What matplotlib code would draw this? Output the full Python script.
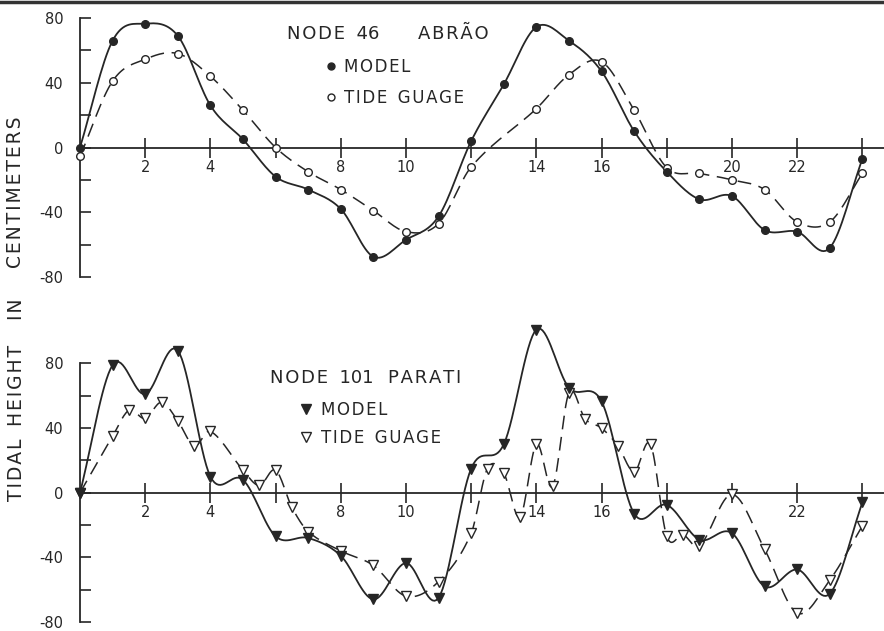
import numpy as np
import matplotlib.pyplot as plt
from matplotlib.lines import Line2D

plt.rcParams["axes.unicode_minus"] = False

# hours after start of record
hours = list(range(25))

# Node 46 - Abrao
abrao_model = [0, 66, 76.5, 69, 26, 5, -18, -26, -38, -67.5, -57, -42.5, 4,
               39, 74.5, 66, 47, 10, -15, -32, -30, -51, -52, -62, -7]
abrao_gauge_hours = [0, 1, 2, 3, 4, 5, 6, 7, 8, 9, 10, 11, 12,
                     14, 15, 16, 17, 18, 19, 20, 21, 22, 23, 24]
abrao_gauge = [-5.5, 41, 54.5, 58, 44, 23, 0, -15, -26, -39, -52, -47, -12,
               24, 45, 53, 23, -12.5, -16, -20, -26, -46, -46, -16]

# Node 101 - Parati
parati_model = [0, 79, 61, 88, 10, 8, -27, -28, -39, -66, -43.5, -65, 15,
                30, 101, 65, 56.5, -13, -7.5, -29, -25, -58, -47.5, -62.5, -6]
parati_gauge_hours = [0, 1, 1.5, 2, 2.5, 3, 3.5, 4, 5, 5.5, 6, 6.5, 7, 8, 9, 10, 11,
                      12, 12.5, 13, 13.5, 14, 14.5, 15, 15.5, 16, 16.5, 17, 17.5,
                      18, 18.5, 19, 20, 21, 22, 23, 24]
parati_gauge = [0, 35, 51, 46, 56, 44.5, 29, 38, 14, 4.5, 14, -9, -24, -36, -45, -64, -55,
                -25, 15, 12, -15, 30, 4, 62, 45.5, 40, 29, 13, 30,
                -27, -26, -33, -1, -35, -74.5, -54, -20.5]

x_ticks = list(range(2, 25, 2))
top_labels = ["2", "4", "", "8", "10", "", "14", "16", "", "20", "22", ""]
bottom_labels = ["2", "4", "", "8", "10", "", "14", "16", "", "", "22", ""]

INK = "#262626"
W, H = 884, 631
HS = "\u200a"  # hair space, the lettering is widely spaced


def smooth(x, y, n=16):
    # cubic hermite through the points, like a french curve
    x = np.asarray(x, float)
    y = np.asarray(y, float)
    m = np.zeros_like(y)
    m[1:-1] = (y[2:] - y[:-2]) / (x[2:] - x[:-2])
    m[0] = (y[1] - y[0]) / (x[1] - x[0])
    m[-1] = (y[-1] - y[-2]) / (x[-1] - x[-2])
    xs, ys = [], []
    for i in range(len(x) - 1):
        h = x[i + 1] - x[i]
        t = np.linspace(0, 1, n, endpoint=False)
        h00 = 2 * t**3 - 3 * t**2 + 1
        h10 = t**3 - 2 * t**2 + t
        h01 = -2 * t**3 + 3 * t**2
        h11 = t**3 - t**2
        xs.append(x[i] + t * h)
        ys.append(h00 * y[i] + h10 * h * m[i] + h01 * y[i + 1] + h11 * h * m[i + 1])
    xs.append([x[-1]])
    ys.append([y[-1]])
    return np.concatenate(xs), np.concatenate(ys)


def setup_axes(ax, labels):
    ax.set_xlim(0, (W - 80) / 32.6)
    ax.set_ylim(-80, 80)
    for s in ["top", "right"]:
        ax.spines[s].set_visible(False)
    ax.spines["left"].set_bounds(-80, 80)
    ax.spines["left"].set_color(INK)
    ax.spines["left"].set_linewidth(1.3)
    ax.spines["bottom"].set_position(("data", 0))
    ax.spines["bottom"].set_color(INK)
    ax.spines["bottom"].set_linewidth(1.3)
    ax.set_yticks([-80, -40, 0, 40, 80])
    ax.set_yticks([-60, -20, 20, 60], minor=True)
    ax.tick_params(axis="y", which="both", direction="in", length=8, width=1.2,
                   color=INK, labelsize=10.5, labelcolor=INK, pad=12)
    ax.set_xticks(x_ticks)
    ax.set_xticklabels(labels)
    ax.tick_params(axis="x", direction="inout", length=14, width=1.2, color=INK,
                   labelsize=10.5, labelcolor=INK, pad=2)
    ax.patch.set_alpha(0)


def draw(ax, hx, hy, gx, gy, mk_fill, mk_open, msize):
    sx, sy = smooth(gx, gy)
    ax.plot(sx, sy, color=INK, lw=1.1, dashes=(9, 5), clip_on=False)
    ax.plot(gx, gy, ls="none", marker=mk_open, ms=msize, mfc="white", mec=INK,
            mew=1.0, clip_on=False, zorder=4)
    sx, sy = smooth(hx, hy)
    ax.plot(sx, sy, color=INK, lw=1.3, clip_on=False)
    ax.plot(hx, hy, ls="none", marker=mk_fill, ms=msize, mfc=INK, mec=INK,
            clip_on=False, zorder=5)


fig = plt.figure(figsize=(W / 100, H / 100), dpi=100)
left = 80 / W
width = 1 - left
ax1 = fig.add_axes([left, 1 - 277 / H, width, 259 / H])
ax2 = fig.add_axes([left, 1 - 622 / H, width, 258.5 / H])

setup_axes(ax1, top_labels)
setup_axes(ax2, bottom_labels)
draw(ax1, hours, abrao_model, abrao_gauge_hours, abrao_gauge, "o", "o", 5.5)
draw(ax2, hours, parati_model, parati_gauge_hours, parati_gauge, "v", "v", 7)


def spaced(s):
    return HS.join(s)


def ftext(x, y, s, **kw):
    fig.text(x / W, 1 - y / H, s, color=INK, va="center", **kw)


def fmark(x, y, marker, filled, ms):
    fig.add_artist(Line2D([x / W], [1 - y / H], marker=marker, ms=ms,
                          mfc=INK if filled else "white", mec=INK, mew=1.0,
                          transform=fig.transFigure))


ftext(287, 34, spaced("NODE") + "  46", fontsize=13)
ftext(418, 34, spaced("ABRÃO"), fontsize=13)
fmark(331, 66, "o", True, 5)
ftext(344, 67, spaced("MODEL"), fontsize=12)
fmark(331, 97, "o", False, 5)
ftext(344, 98, spaced("TIDE") + "  " + spaced("GUAGE"), fontsize=12)

ftext(270, 378, spaced("NODE") + "  101", fontsize=13)
ftext(388, 378, spaced("PARATI"), fontsize=13)
fmark(306, 409, "v", True, 6.5)
ftext(321, 410, spaced("MODEL"), fontsize=12)
fmark(306, 437, "v", False, 6.5)
ftext(321, 438, spaced("TIDE") + "  " + spaced("GUAGE"), fontsize=12)

# y label, one word at a time
for word, yc in [("TIDAL", 470), ("HEIGHT", 385), ("IN", 309), ("CENTIMETERS", 192)]:
    fig.text(16 / W, 1 - yc / H, spaced(word), rotation=90, fontsize=13.5,
             color=INK, ha="center", va="center")

# dark scan border along the top
fig.add_artist(Line2D([0, 1], [1 - 1.5 / H, 1 - 1.5 / H], lw=2.5, color="#333333",
                      transform=fig.transFigure))

fig.savefig("out.png", dpi=100)
